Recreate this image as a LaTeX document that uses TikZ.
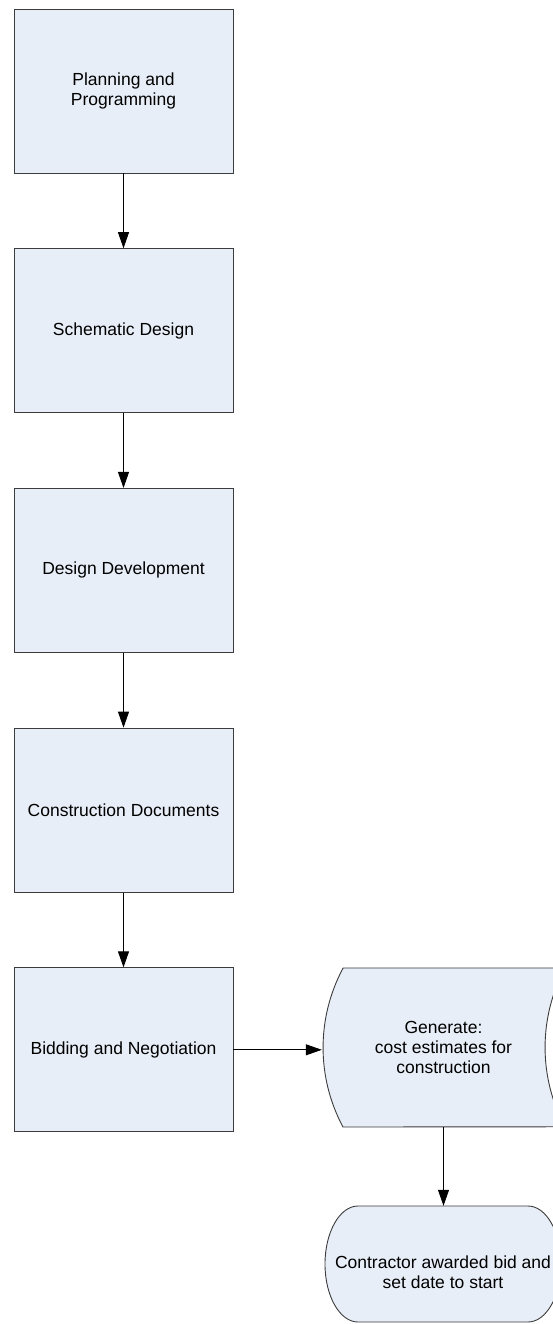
\documentclass[tikz,border=0pt]{standalone}
\usepackage{fontspec}
\setmainfont{Liberation Sans}
\usetikzlibrary{arrows.meta,positioning}
\definecolor{boxfill}{RGB}{232,238,247}
\definecolor{boxline}{RGB}{60,60,60}
\tikzset{
  stepbox/.style={draw=boxline, fill=boxfill, line width=0.9pt,
    minimum width=219pt, minimum height=164pt, align=center,
    inner sep=0pt, font=\fontsize{17.5pt}{20pt}\selectfont},
  textarea/.style={align=center, inner sep=0pt,
    font=\fontsize{17.5pt}{20pt}\selectfont},
  shapeline/.style={draw=boxline, fill=boxfill, line width=0.9pt},
  flow/.style={draw=black, line width=0.8pt,
    -{Triangle[length=16pt,width=11pt]}},
}
\begin{document}
\begin{tikzpicture}[x=1pt, y=-1pt]
  \useasboundingbox (0,0) rectangle (553,1324);
  \clip (0,0) rectangle (553,1324);

  % main column of process steps
  \node[stepbox] (plan)   at (123.5, 91)     {Planning and\\Programming};
  \node[stepbox] (schem)  at (123.5, 330.7)  {Schematic Design};
  \node[stepbox] (devel)  at (123.5, 570.4)  {Design Development};
  \node[stepbox] (docs)   at (123.5, 810.1)  {Construction Documents};
  \node[stepbox] (bid)    at (123.5, 1049.8) {Bidding and Negotiation};

  % stored-data shape: circular-arc sides, convex left, concave right
  \node[textarea, minimum width=243pt, minimum height=159pt] (gen)
    at (443.5, 1047.5) {};
  \path[shapeline] (343,968) -- (565,968)
    arc[start angle=151.8, end angle=208.2, radius=168pt]
    -- (343,1127)
    arc[start angle=208.2, end angle=151.8, radius=168pt]
    -- cycle;
  \node[textarea] at (gen.center)
    {Generate:\\cost estimates for\\construction};

  % terminator with elliptical ends
  \node[textarea, minimum width=236pt, minimum height=116pt] (term)
    at (443, 1264) {};
  \path[shapeline] (358,1206) -- (528,1206)
    arc[start angle=90, end angle=-90, x radius=33pt, y radius=58pt]
    -- (358,1322)
    arc[start angle=270, end angle=90, x radius=33pt, y radius=58pt]
    -- cycle;
  \node[textarea] at ([yshift=-8.5pt]term.center)
    {Contractor awarded bid and\\set date to start};

  % connectors
  \draw[flow] (plan)  -- (schem);
  \draw[flow] (schem) -- (devel);
  \draw[flow] (devel) -- (docs);
  \draw[flow] (docs)  -- (bid);
  \draw[flow] (bid.east) -- (bid.east -| gen.west);
  \draw[flow] (gen.south) -- (gen.south |- term.north);
\end{tikzpicture}
\end{document}
